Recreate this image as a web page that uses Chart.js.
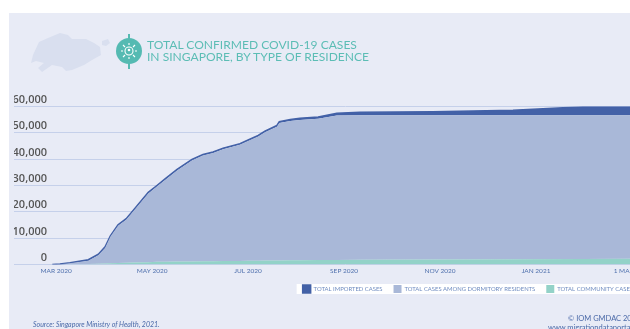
<!DOCTYPE html>
<html>
<head>
<meta charset="utf-8">
<script src="https://cdn.jsdelivr.net/npm/chart.js@4"></script>
<style>
html, body { margin: 0; padding: 0; background: #fff; overflow: hidden; }
#page { position: relative; width: 630px; height: 329px; overflow: hidden; }
#panel { position: absolute; left: 9px; top: 13px; width: 621px; height: 316px; background: #e8ebf6; }
#art { position: absolute; left: 0; top: 0; }
#wrap { position: absolute; left: 0; top: 0; width: 644px; height: 329px; }
.txt { position: absolute; white-space: nowrap; font-family: Lato, sans-serif; }
#title { left: 147px; top: 38.5px; font-size: 12.05px; line-height: 12.5px; font-weight: 400; color: #5cbdb5; }
#source { left: 33px; top: 320px; font-size: 7px; line-height: 9px; color: #4a69a8; font-style: italic; }
#credit { left: 548px; top: 314px; width: 130px; font-size: 7.5px; line-height: 9px; color: #4a69a8; }
#credit div:first-child { padding-left: 20px; }
</style>
</head>
<body>
<div id="page">
  <div id="panel"></div>
  <svg id="art" width="630" height="329">
    <path d="M31 63 L33 55 L39 42 L48 38 L60 33 L68 35 L72 39 L86 39 L94 43 L100 47 L101 55 L92 60 L84 65 L72 70 L66 71 L62 67 L52 65 L42 72 L38 68 L44 63 L36 61 Z" fill="#d9dfef"/>
    <path d="M102 41 L108 39 L110 43 L106 46 L102 45 Z M84 41 L92 43 L92 45 L85 43 Z" fill="#d9dfef"/>
    <rect x="128" y="34" width="2" height="35" fill="#55bab2"/>
    <circle cx="129" cy="51" r="13" fill="#55bab2"/>
    <g stroke="#fff" stroke-width="1.1" fill="none">
      <circle cx="129" cy="51" r="4"/>
      <path d="M129 45 V43 M129 57 V59 M123 51 H121 M135 51 H137 M125 47 L123 45 M133 47 L135 45 M125 55 L123 57 M133 55 L135 57"/>
    </g>
    <circle cx="129" cy="50" r="1.3" fill="#fff"/>
  </svg>
  <div id="wrap"><canvas id="covidChart" width="644" height="329"></canvas></div>
  <div class="txt" id="title">TOTAL CONFIRMED COVID-19 CASES<br>IN SINGAPORE, BY TYPE OF RESIDENCE</div>
  <div class="txt" id="source">Source: Singapore Ministry of Health, 2021.</div>
  <div class="txt" id="credit"><div>© IOM GMDAC 2021</div><div>www.migrationdataportal.org</div></div>
</div>
<script>
// months since March 2020
const months = [-0.08, 0.08, 0.29, 0.67, 0.88, 1.02, 1.13, 1.29, 1.46, 1.6, 1.92, 2.1, 2.27, 2.52, 2.83, 3.06, 3.27, 3.48, 3.83, 4.0, 4.21, 4.35, 4.6, 4.65, 4.88, 5.08, 5.46, 5.85, 6.33, 7.85, 9.52, 10.98, 11.96, 12.4];
const community = [0, 0, 50, 150, 300, 400, 500, 600, 700, 750, 900, 1000, 1050, 1100, 1150, 1200, 1250, 1300, 1350, 1400, 1450, 1500, 1550, 1550, 1600, 1650, 1700, 1750, 1800, 1900, 2000, 2100, 2150, 2150];
const dormitory = [0, 100, 400, 1300, 3200, 5900, 10000, 14100, 16300, 19250, 26100, 28600, 31050, 34600, 38350, 40200, 41050, 42500, 44150, 45500, 47150, 48700, 50800, 52200, 52900, 53250, 53650, 54850, 54850, 54800, 54700, 54600, 54550, 54600];
const imported = [0, 100, 250, 350, 400, 400, 400, 400, 400, 400, 400, 400, 400, 400, 400, 400, 400, 400, 400, 400, 400, 400, 450, 450, 600, 600, 650, 800, 1150, 1300, 1900, 3200, 3200, 3250];
const tickLabels = { 0: 'MAR 2020', 2: 'MAY 2020', 4: 'JUL 2020', 6: 'SEP 2020', 8: 'NOV 2020', 10: 'JAN 2021', 12: '1 MAR 2021' };

// white strip behind the legend row only
const legendBack = {
    id: 'legendBack',
    beforeDraw(chart) {
        const box = chart.legend.legendHitBoxes[0];
        chart.ctx.save();
        chart.ctx.fillStyle = '#fff';
        chart.ctx.fillRect(box.left - 6, box.top - 1, chart.width, box.height + 2);
        chart.ctx.restore();
    }
};

new Chart(document.getElementById('covidChart'), {
    type: 'line',
    plugins: [legendBack],
    data: {
        labels: months,
        datasets: [
            { label: 'TOTAL COMMUNITY CASES', data: community, backgroundColor: '#93d2c8', borderColor: '#93d2c8', borderWidth: 0, fill: 'origin' },
            { label: 'TOTAL CASES AMONG DORMITORY RESIDENTS', data: dormitory, backgroundColor: '#a9b8d8', borderColor: '#a9b8d8', borderWidth: 0, fill: '-1' },
            { label: 'TOTAL IMPORTED CASES', data: imported, backgroundColor: '#4361a7', borderColor: '#4361a7', borderWidth: 1.5, fill: '-1' }
        ]
    },
    options: {
        responsive: false,
        animation: false,
        layout: { padding: { top: 106.5, left: 14, right: 0, bottom: 26 } },
        elements: { point: { radius: 0 }, line: { tension: 0 } },
        plugins: {
            tooltip: { enabled: false },
            title: { display: false },
            legend: {
                position: 'bottom',
                align: 'end',
                labels: {
                    boxWidth: 8,
                    boxHeight: 8,
                    padding: 11,
                    color: '#6f8cc0',
                    font: { family: 'Lato', size: 5.9 },
                    sort: (a, b) => b.datasetIndex - a.datasetIndex
                }
            }
        },
        scales: {
            x: {
                type: 'linear',
                min: -0.19,
                max: 12.25,
                // last label runs off the page, don't let it squeeze the plot
                afterFit: s => { s.height = 9.5; s.paddingRight = 0; s.paddingLeft = 0; },
                grid: { display: false, drawTicks: false },
                border: { display: false },
                ticks: {
                    stepSize: 2,
                    includeBounds: false,
                    autoSkip: false,
                    maxRotation: 0,
                    padding: 3,
                    color: '#4f70ad',
                    font: { family: 'Lato', size: 6.5 },
                    callback: v => tickLabels[v]
                }
            },
            y: {
                stacked: true,
                min: 0,
                max: 60000,
                afterFit: s => { s.width = 33; },
                grid: { color: '#c5d0ea', lineWidth: 1, tickLength: 33 },
                border: { display: false },
                ticks: {
                    stepSize: 10000,
                    padding: -33,
                    labelOffset: -6.5,
                    color: '#555',
                    font: { family: 'Open Sans', size: 11, weight: '600' },
                    callback: v => v.toLocaleString('en-US')
                }
            }
        }
    }
});
</script>
</body>
</html>
